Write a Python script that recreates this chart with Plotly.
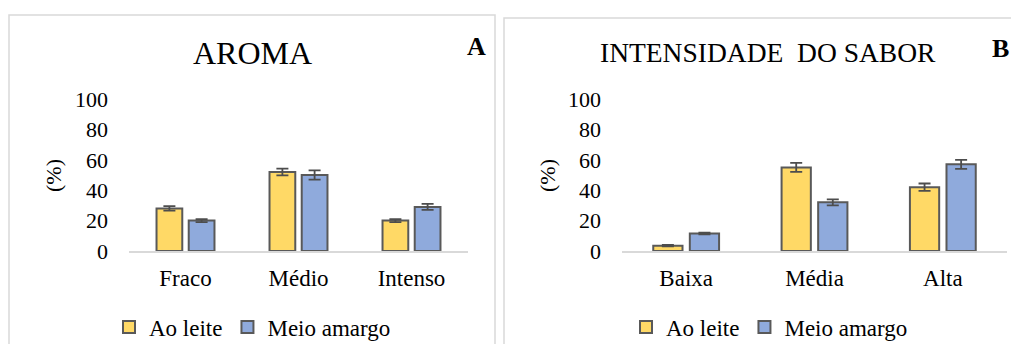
import plotly.graph_objects as go

# ---- data ----
cats_a = ["Fraco", "Médio", "Intenso"]
leite_a = [28, 52, 20]
leite_a_err = [1.5, 2.2, 1.0]
amargo_a = [20, 50, 29]
amargo_a_err = [1.0, 3.0, 2.0]

cats_b = ["Baixa", "Média", "Alta"]
leite_b = [3.5, 55, 42]
leite_b_err = [0.5, 3.0, 2.4]
amargo_b = [11.5, 32, 57]
amargo_b_err = [0.5, 2.0, 3.0]

series_names = ["Ao leite", "Meio amargo"]
yticks = [0, 20, 40, 60, 80, 100]

YELLOW = "#FFD966"
BLUE = "#8FAADC"
OUTLINE = "#595959"
ERRC = "#4D4D4D"
FONT = "Liberation Serif"

# the page body adds an 8px margin, so the figure is shown from (8, 8);
# keep the figure small enough that the page does not overflow the window
OFF = 8
W, H = 1019 - 2 * OFF, 352 - 2 * OFF

def px(x):
    return (x - OFF) / W

def py(y):
    return 1 - (y - OFF) / H

fig = go.Figure()

def add_bars(cats, vals, errs, name, color, xa, ya, legend):
    fig.add_trace(go.Bar(
        x=cats, y=vals, name=name,
        marker=dict(color=color, line=dict(color=OUTLINE, width=2)),
        error_y=dict(type="data", array=errs, color=ERRC, thickness=1.8, width=6),
        xaxis=xa, yaxis=ya, legend=legend,
    ))

add_bars(cats_a, leite_a, leite_a_err, series_names[0], YELLOW, "x", "y", "legend")
add_bars(cats_a, amargo_a, amargo_a_err, series_names[1], BLUE, "x", "y", "legend")
add_bars(cats_b, leite_b, leite_b_err, series_names[0], YELLOW, "x2", "y2", "legend2")
add_bars(cats_b, amargo_b, amargo_b_err, series_names[1], BLUE, "x2", "y2", "legend2")

xcommon = dict(showline=True, linecolor="#D9D9D9", linewidth=2, showgrid=False,
               ticks="", tickfont=dict(family=FONT, size=23, color="black"),
               ticklabelstandoff=5, fixedrange=True, automargin=False)
ycommon = dict(range=[0, 100], tickvals=yticks, showgrid=False, showline=False,
               zeroline=False, ticks="", tickfont=dict(family=FONT, size=22, color="black"),
               ticklabelstandoff=20, fixedrange=True, automargin=False)

ydom = [py(251), py(99)]

legend_font = dict(family=FONT, size=23, color="black")

fig.update_layout(
    width=W, height=H,
    font=dict(family=FONT, color="black"),
    margin=dict(l=0, r=0, t=0, b=0, autoexpand=False),
    paper_bgcolor="white", plot_bgcolor="white",
    barmode="group", bargap=0.43, bargroupgap=0.2,
    showlegend=True,
    xaxis=dict(domain=[px(129), px(468)], anchor="y", **xcommon),
    yaxis=dict(domain=ydom, anchor="x", **ycommon),
    xaxis2=dict(domain=[px(622), px(1007)], anchor="y2", **xcommon),
    yaxis2=dict(domain=ydom, anchor="x2", **ycommon),
    legend=dict(orientation="h", x=px(109), y=py(327), xanchor="left", yanchor="middle",
                font=legend_font, itemwidth=30, bgcolor="rgba(0,0,0,0)", tracegroupgap=0),
    legend2=dict(orientation="h", x=px(626), y=py(327), xanchor="left", yanchor="middle",
                 font=legend_font, itemwidth=30, bgcolor="rgba(0,0,0,0)", tracegroupgap=0),
    shapes=[
        dict(type="rect", xref="paper", yref="paper", x0=px(9), x1=px(495), y0=py(400), y1=py(15),
             line=dict(color="#D9D9D9", width=1.5), fillcolor="rgba(0,0,0,0)", layer="below"),
        dict(type="rect", xref="paper", yref="paper", x0=px(504), x1=px(1060), y0=py(400), y1=py(18),
             line=dict(color="#D9D9D9", width=1.5), fillcolor="rgba(0,0,0,0)", layer="below"),
    ],
    annotations=[
        dict(text="AROMA", xref="paper", yref="paper", x=px(252), y=py(53), showarrow=False,
             xanchor="center", yanchor="middle", font=dict(family=FONT, size=32, color="black")),
        dict(text="INTENSIDADE  DO SABOR", xref="paper", yref="paper", x=px(768), y=py(53),
             showarrow=False, xanchor="center", yanchor="middle",
             font=dict(family=FONT, size=27.5, color="black")),
        dict(text="<b>A</b>", xref="paper", yref="paper", x=px(476), y=py(46), showarrow=False,
             xanchor="center", yanchor="middle", font=dict(family=FONT, size=26, color="black")),
        dict(text="<b>B</b>", xref="paper", yref="paper", x=px(1000), y=py(48), showarrow=False,
             xanchor="center", yanchor="middle", font=dict(family=FONT, size=26, color="black")),
        dict(text="(%)", xref="paper", yref="paper", x=px(53), y=py(176), showarrow=False,
             textangle=-90, xanchor="center", yanchor="middle",
             font=dict(family=FONT, size=22, color="black")),
        dict(text="(%)", xref="paper", yref="paper", x=px(547), y=py(176), showarrow=False,
             textangle=-90, xanchor="center", yanchor="middle",
             font=dict(family=FONT, size=22, color="black")),
    ],
)

fig.write_html("out.html")
